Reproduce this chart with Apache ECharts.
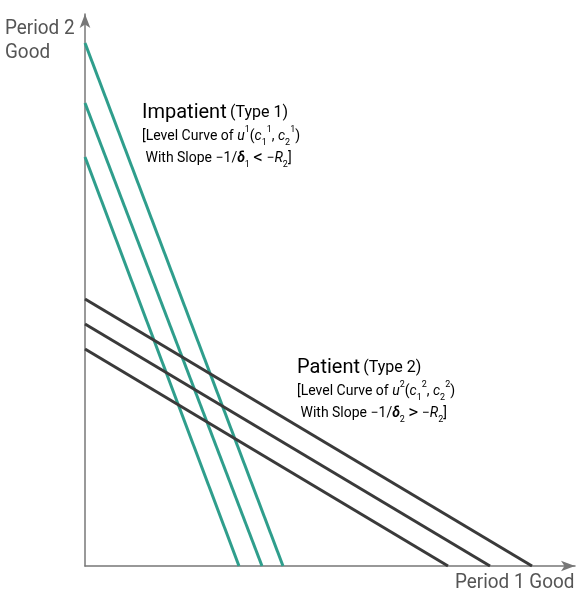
<!DOCTYPE html>
<html><head><meta charset="utf-8">
<script src="https://cdn.jsdelivr.net/npm/echarts@6/dist/echarts.min.js"></script>
<style>html,body{margin:0;padding:0;background:#fff}#c{width:578px;height:597px}</style>
</head><body><div id="c"></div>
<script>
// Level curves: intercepts on the vertical (period 2) and horizontal (period 1) axes
const impatientY = [523, 463, 409];
const impatientX = [198, 177, 154];
const patientY = [267, 242, 217];
const patientX = [447, 405, 363];
const xMax = 490, yMax = 552;

const FONT = 'Roboto, "Noto Sans", sans-serif';
const teal = '#2f9e8c';
const dark = '#3a3a3a';

function lineSeries(ys, xs, color) {
  return ys.map((y, i) => ({
    type: 'line', data: [[0, y], [xs[i], 0]], symbol: 'none', silent: true,
    lineStyle: { color: color, width: 3 }, animation: false
  }));
}

const chart = echarts.init(document.getElementById('c'));
const mathRich = (color) => ({
  big: { fontSize: 20, color: color, fontFamily: FONT, lineHeight: 24 },
  sm: { fontSize: 16, color: color, fontFamily: FONT, lineHeight: 24 },
  t: { fontSize: 14, color: color, fontFamily: FONT, lineHeight: 22 },
  i: { fontSize: 14, color: color, fontFamily: FONT, fontStyle: 'italic', lineHeight: 22 },
  d: { fontSize: 14, color: color, fontFamily: FONT, fontStyle: 'italic', fontWeight: 'bold', lineHeight: 22 },
  rel: { fontSize: 19, color: color, fontFamily: FONT, lineHeight: 22 },
  sup: { fontSize: 9, color: color, fontFamily: FONT, lineHeight: 13, verticalAlign: 'top' },
  sub: { fontSize: 9, color: color, fontFamily: FONT, lineHeight: 11, verticalAlign: 'bottom' }
});
function block(type, n, rel) {
  return '{big|' + type + '} {sm|(Type ' + n + ')}\n' +
    '{t|[Level Curve of }{i|u}{sup|' + n + '}{t|(}{i|c}{sub|1}{sup|' + n + '}{t|, }{i|c}{sub|2}{sup|' + n + '}{t|)}\n' +
    '{t| With Slope −1/}{d|δ}{sub|' + n + '}{t| }{rel|' + rel + '}{t| −}{i|R}{sub|2}{t|]}';
}
chart.setOption({
  animation: false,
  grid: { left: 85, right: 3, top: 14, bottom: 31 },
  xAxis: { type: 'value', min: 0, max: xMax, splitLine: { show: false },
    axisTick: { show: false }, axisLabel: { show: false },
    axisLine: { onZero: false, lineStyle: { color: '#777', width: 1.5 }, symbol: ['none', 'arrow'], symbolSize: [8, 14] } },
  yAxis: { type: 'value', min: 0, max: yMax, splitLine: { show: false },
    axisTick: { show: false }, axisLabel: { show: false },
    axisLine: { onZero: false, lineStyle: { color: '#777', width: 1.5 }, symbol: ['none', 'arrow'], symbolSize: [8, 14] } },
  series: [...lineSeries(impatientY, impatientX, teal), ...lineSeries(patientY, patientX, dark)],
  graphic: [
    { type: 'text', x: 5, y: 17, scaleX: 0.9, style: { text: 'Period 2\nGood', fill: '#555', font: '21px ' + FONT, lineHeight: 24 } },
    { type: 'text', x: 455, y: 572, scaleX: 0.9, style: { text: 'Period 1 Good', fill: '#555', font: '21px ' + FONT } },
    { type: 'text', x: 142, y: 101, style: { text: block('Impatient', 1, '<'), rich: mathRich('#3a9e92') } },
    { type: 'text', x: 297, y: 356, style: { text: block('Patient', 2, '>'), rich: mathRich('#444') } }
  ]
});
</script></body></html>
